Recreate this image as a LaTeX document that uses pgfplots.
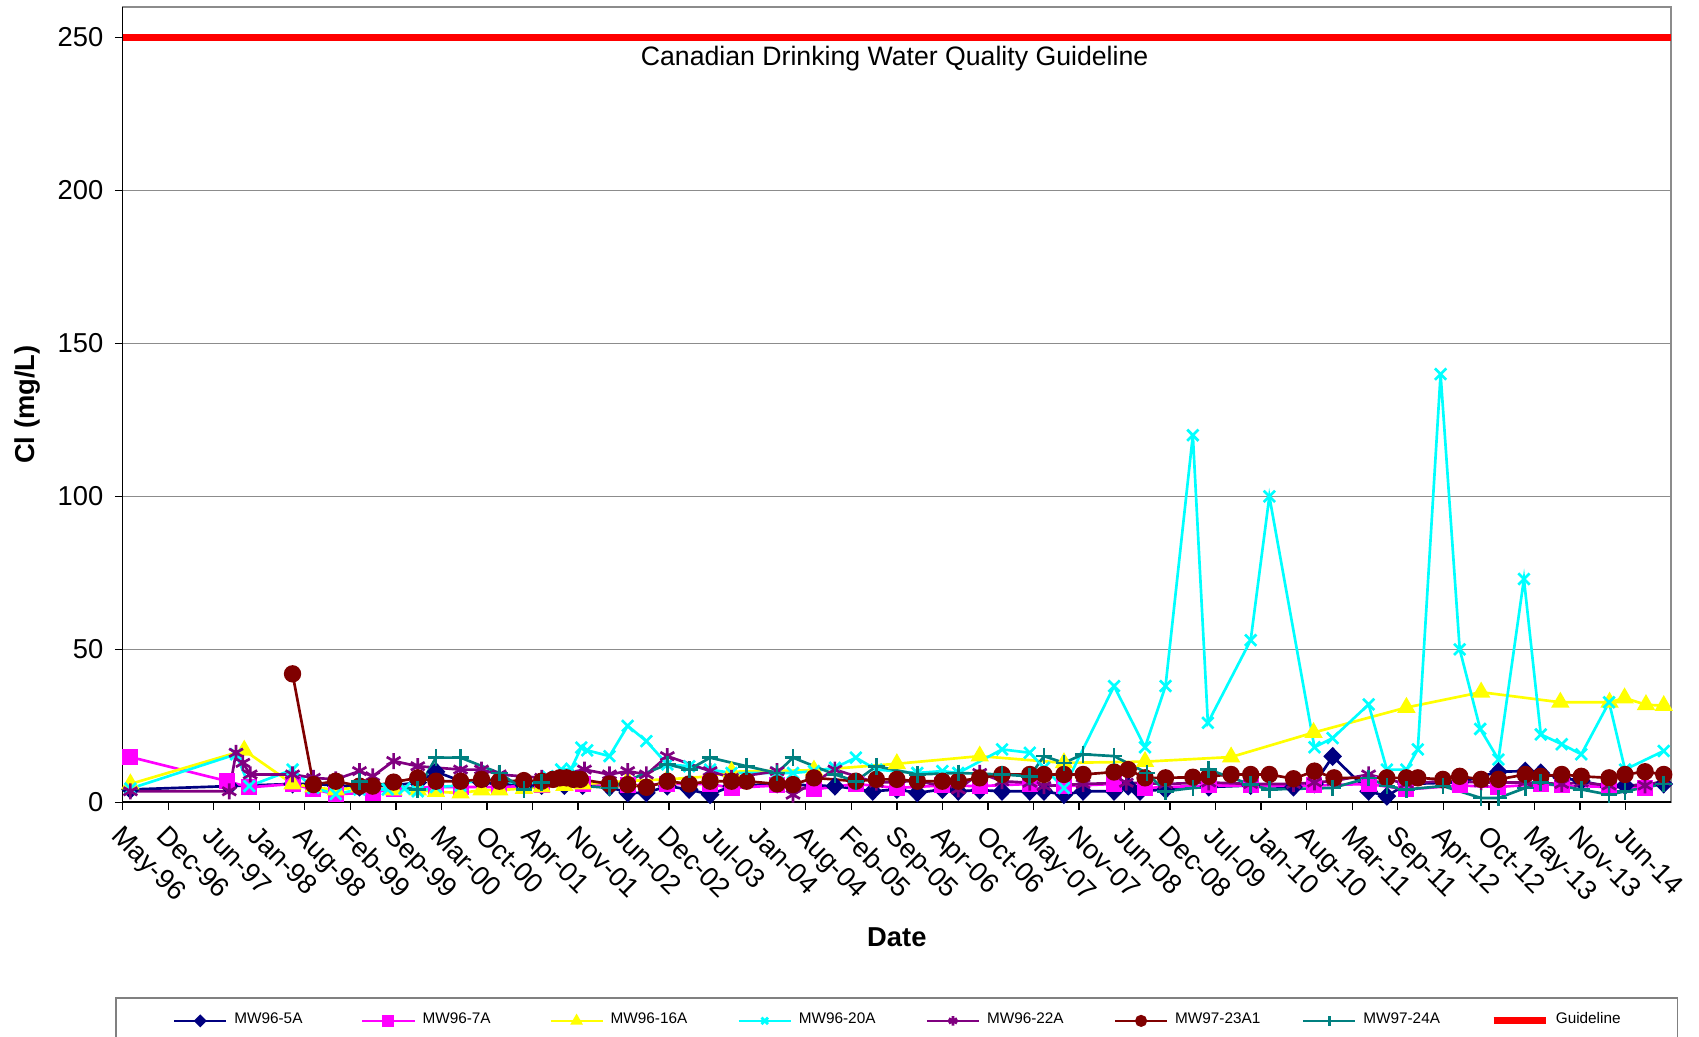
\documentclass[border=0pt]{standalone}
\usepackage{pgfplots}
\pgfplotsset{compat=1.18}
\usepackage{fontspec}
\setmainfont{Liberation Sans}
\definecolor{cA}{HTML}{000080}
\definecolor{cB}{HTML}{FF00FF}
\definecolor{cC}{HTML}{FFFF00}
\definecolor{cD}{HTML}{00FFFF}
\definecolor{cE}{HTML}{800080}
\definecolor{cF}{HTML}{800000}
\definecolor{cG}{HTML}{008080}
\definecolor{cR}{HTML}{FF0000}
\begin{document}
\begin{tikzpicture}
% x is measured in tick intervals (May-96 = 0, Jun-14 = 33)
\begin{axis}[name=ax, scale only axis, width=464.5pt, height=238.6pt,
 xmin=0, xmax=34, ymin=0, ymax=260, clip=false,
 xtick={0,...,33},
 xticklabels={May-96,Dec-96,Jun-97,Jan-98,Aug-98,Feb-99,Sep-99,Mar-00,Oct-00,Apr-01,Nov-01,Jun-02,Dec-02,Jul-03,Jan-04,Aug-04,Feb-05,Sep-05,Apr-06,Oct-06,May-07,Nov-07,Jun-08,Dec-08,Jul-09,Jan-10,Aug-10,Mar-11,Sep-11,Apr-12,Oct-12,May-13,Nov-13,Jun-14},
 ytick={0,50,...,250},
 xtick pos=bottom, ytick pos=left, tick align=outside, major tick length=2.3pt,
 tick style={black, line width=0.4pt},
 ymajorgrids, grid style={gray!90, line width=0.5pt},
 axis line style={gray!90, line width=0.5pt},
 /pgf/number format/assume math mode=true,
 ticklabel style={font=\fontsize{8.2}{9}\selectfont},
 xticklabel style={rotate=-45, anchor=north west, inner sep=1pt, yshift=-1.5pt, xshift=2pt},
 every axis y label/.style={at={(axis description cs:0,0.5)}, xshift=-28.7pt, rotate=90, anchor=center, font=\fontsize{8.2}{9}\selectfont\bfseries},
 every axis x label/.style={at={(axis description cs:0.5,0)}, yshift=-40.4pt, anchor=center, font=\fontsize{8.2}{9}\selectfont\bfseries},
 ylabel={Cl (mg/L)}, xlabel={Date},
 legend columns=8, legend cell align=left,
 legend style={at={(0.5,0)}, anchor=north, yshift=-58.4pt, draw=gray, line width=0.5pt,
   font=\fontsize{4.6}{5.5}\selectfont, inner xsep=17pt, inner ysep=2.5pt,
   /tikz/every even column/.append style={column sep=0pt}},
 legend image code/.code={\draw[mark repeat=2,mark phase=2,#1] plot coordinates {(0cm,0cm)(0.275cm,0cm)(0.55cm,0cm)};},
 legend image post style={mark size=1.4pt},
 every axis plot/.append style={line width=0.8pt},
]
\addplot[cA, mark=diamond*, mark size=2.3pt, mark options={xscale=1.3}] coordinates {
(0.17,4.2)(2.34,5.3)(3.73,6)(4.19,6)(4.68,5.5)(5.2,5)(5.95,5.5)(6.48,6.5)(6.88,10)(7.42,7)(7.88,6.5)(8.27,6)(8.81,5.5)(9.2,5.5)(9.7,5.5)(10.1,5.5)(10.69,5)(11.09,3.1)(11.5,3.1)(11.96,5.3)(12.44,4.2)(12.9,2.5)(13.37,5.3)(14.37,6)(15.18,5.5)(15.64,5.3)(16.47,3.6)(17.0,4.2)(17.45,3.1)(18.0,4.2)(18.35,3.6)(18.82,4)(19.31,3.6)(19.92,3.6)(20.23,3.6)(20.67,2.5)(21.09,3.6)(21.77,3.6)(22.08,5.3)(22.34,3.6)(22.9,4.2)(23.85,5)(24.77,5.5)(25.71,5)(26.17,6)(26.57,15)(27.36,3.6)(27.76,2)(28.19,6)(29.36,6.5)(30.21,10)(30.8,10.2)(31.14,9.6)(31.6,8)(32.03,7)(32.64,5)(32.99,5.5)(33.84,6)};
\addlegendentry{\makebox[36pt][l]{MW96-5A}}
\addplot[cB, mark=square*, mark size=2pt] coordinates {
(0.17,14.8)(2.30,6.9)(2.78,4.9)(3.73,6)(4.19,4.2)(4.68,2.7)(5.49,3.1)(5.95,4.5)(6.88,5)(7.42,5)(8.27,5)(9.2,5.5)(10.1,6)(11.09,5.5)(11.96,6)(12.9,6)(13.37,4.7)(14.37,5.5)(15.18,4.2)(16.1,6)(17.0,4.7)(18.0,5.5)(18.82,5.3)(19.92,6)(20.67,5.3)(21.77,6)(22.45,4.7)(23.85,5.5)(24.77,5.5)(26.17,5.5)(27.36,6)(28.19,4.2)(29.36,5.5)(30.21,5)(31.14,6)(31.6,5.5)(32.64,5)(33.43,4.7)};
\addlegendentry{\makebox[36pt][l]{MW96-7A}}
\addplot[cC, mark=triangle*, mark size=2.4pt] coordinates {
(0.17,6)(2.67,17)(3.73,6)(4.19,5)(4.68,4)(5.2,5)(5.95,4)(6.48,4)(6.88,3.5)(7.42,3)(7.88,4)(8.27,4)(8.81,4.5)(9.2,5)(9.7,5.5)(10.1,6)(10.69,6.5)(11.09,7)(11.96,7.5)(12.9,8.5)(13.37,10)(15.18,10.5)(17.0,12.6)(18.82,15.1)(20.67,12.9)(22.45,13.3)(24.34,14.8)(26.15,22.8)(28.19,31)(29.83,36)(31.57,32.7)(32.65,32.7)(32.98,34.1)(33.45,31.9)(33.84,31.6)};
\addlegendentry{\makebox[36pt][l]{MW96-16A}}
\addplot[cD, mark=x, mark size=2.4pt] coordinates {
(0.17,4.5)(2.49,15.7)(2.78,5.3)(3.73,10.7)(4.19,4.7)(4.68,2.7)(5.2,4.2)(5.82,4.2)(6.19,4.5)(6.48,3.6)(6.88,5)(7.42,5.5)(7.88,8)(8.27,7)(8.81,6)(9.2,7)(9.33,8.5)(9.63,10.7)(9.85,11)(10.07,17.9)(10.2,17)(10.69,15.1)(11.09,25)(11.5,20)(11.96,12.4)(12.44,11.8)(12.9,10.7)(13.37,9.6)(14.37,9.6)(14.72,9.6)(15.18,10.2)(15.64,11.3)(16.1,14.6)(16.55,10.7)(17.45,9.6)(18.0,10.2)(18.35,9.6)(19.31,17.3)(19.92,16.2)(20.23,11.3)(20.67,4.7)(21.77,38)(22.45,18)(22.9,38)(23.5,120)(23.83,26)(24.77,53)(25.18,100)(26.17,18)(26.57,21)(27.36,32)(27.76,10.7)(28.19,10.7)(28.44,17.3)(28.94,140)(29.36,50)(29.81,24)(30.21,14)(30.77,73)(31.14,22.2)(31.6,19)(32.03,15.7)(32.64,32.7)(32.99,10.7)(33.84,16.8)};
\addlegendentry{\makebox[36pt][l]{MW96-20A}}
\addplot[cE, mark=asterisk, mark size=2.4pt] coordinates {
(0.17,3.6)(2.34,3.6)(2.49,16.2)(2.64,12.9)(2.80,9.1)(3.73,9.1)(4.19,8)(4.68,7.5)(5.2,10.2)(5.49,8.5)(5.95,13.5)(6.48,11.8)(7.42,10.7)(7.88,10.7)(8.27,9.1)(9.2,8)(10.14,10.7)(10.69,9.1)(11.09,10.2)(11.5,9.1)(11.96,15.1)(12.9,10.2)(13.37,8)(14.37,10.2)(14.72,2.5)(15.64,10.7)(16.55,6.4)(17.45,7)(18.35,4.2)(18.82,9.6)(19.31,6.9)(19.92,6.4)(20.23,5.3)(21.09,6)(22.04,6.4)(22.9,6)(23.85,6.5)(24.77,6)(25.71,6)(26.17,6.5)(26.6,7)(27.36,9.1)(28.19,6)(28.99,7)(29.83,6.5)(30.8,6.5)(31.6,6)(32.03,6.5)(32.64,5.5)(33.43,5.5)(33.84,7)};
\addlegendentry{\makebox[36pt][l]{MW96-22A}}
\addplot[cF, mark=*, mark size=2.2pt] coordinates {
(3.73,42)(4.19,5.8)(4.68,6.9)(5.2,5.3)(5.49,5.3)(5.95,6.6)(6.48,8)(6.88,6.9)(7.42,6.9)(7.88,7.5)(8.27,6.9)(8.81,7.1)(9.2,6.9)(9.45,7.5)(9.6,8)(9.75,8)(9.9,7.5)(10.05,7.5)(10.69,6)(11.09,5.8)(11.5,4.9)(11.96,6.9)(12.44,6)(12.9,6.9)(13.37,6.9)(13.7,6.9)(14.37,6)(14.72,5.8)(15.18,8)(16.1,6.9)(16.55,7.5)(17.0,7.5)(17.45,6.9)(18.0,6.9)(18.35,6.9)(18.82,8)(19.31,9.1)(19.92,9.1)(20.23,9.1)(20.67,9.1)(21.09,9.1)(21.77,9.9)(22.08,10.7)(22.45,8)(22.9,8)(23.5,8.2)(23.85,8.5)(24.34,9.1)(24.77,9.1)(25.18,9.1)(25.71,7.7)(26.17,10.2)(26.6,8)(27.76,8)(28.19,8)(28.44,8)(28.99,7.5)(29.36,8.5)(29.83,7.5)(30.21,7.5)(30.8,9.1)(31.14,8.5)(31.6,9.1)(32.03,8.5)(32.64,8)(32.99,9.1)(33.43,10)(33.84,9.1)};
\addlegendentry{\makebox[36pt][l]{MW97-23A1}}
\addplot[cG, mark=+, mark size=2.5pt] coordinates {
(5.2,6.9)(6.48,4.2)(6.88,14.6)(7.42,14.6)(8.27,9.6)(8.81,4.2)(9.2,6.4)(10.69,4.7)(11.96,12.4)(12.44,10.7)(12.9,14.6)(13.7,11.8)(14.37,9.6)(14.72,14.6)(15.64,9.1)(16.1,6.9)(16.55,11.8)(17.45,9.1)(18.35,9.6)(19.31,9.1)(19.92,8.5)(20.23,15.1)(20.67,12.9)(21.09,15.7)(21.77,15.1)(22.49,9.6)(22.9,3.6)(23.5,4.7)(23.85,10.7)(24.77,5.8)(25.18,4.2)(26.57,4.7)(27.36,8)(27.76,5.3)(28.19,4.2)(28.99,5.3)(29.83,1.4)(30.21,1.4)(30.8,4.7)(31.14,6.4)(32.03,4.2)(32.64,2.5)(32.99,3.6)(33.84,6)};
\addlegendentry{\makebox[36pt][l]{MW97-24A}}
\addplot[cR, line width=2.1pt] coordinates {(0,250)(34,250)};
\addlegendentry{\makebox[17.5pt][l]{Guideline}}
\draw[black, line width=0.5pt] (rel axis cs:0,1) -- (rel axis cs:0,0) -- (rel axis cs:1,0);
\node[font=\fontsize{8}{9.6}\selectfont] at (axis cs:16.95,243) {Canadian Drinking Water Quality Guideline};
\end{axis}
\pgfresetboundingbox
\path[use as bounding box] ([xshift=-36.8pt,yshift=-70.4pt]ax.south west) rectangle ([xshift=8.4pt,yshift=2.1pt]ax.north east);
\end{tikzpicture}
\end{document}
